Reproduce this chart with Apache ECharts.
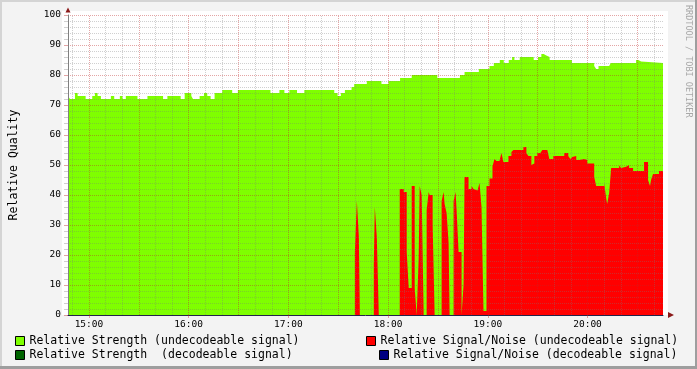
<!DOCTYPE html>
<html><head><meta charset="utf-8">
<script src="https://cdn.jsdelivr.net/npm/echarts@6/dist/echarts.min.js"></script>
<style>html,body{margin:0;padding:0;background:#f3f3f3}#c{width:697px;height:369px}</style>
</head><body><div id="c"></div>
<script>
// times are minutes after 14:00; each value holds until the next time
const strengthTime = [47.4,48.6,51.6,53.2,58.0,62.0,63.6,65.2,67.2,73.2,75.2,78.6,80.2,82.2,89.2,95.2,104.6,107.2,115.2,117.6,121.6,122.6,126.6,129.2,131.2,133.2,135.6,140.2,146.2,149.6,169.2,174.6,177.6,180.6,185.2,189.6,207.6,209.6,211.6,214.0,218.0,219.6,227.2,236.0,240.2,247.2,254.2,269.6,283.2,286.0,294.6,301.0,303.6,307.2,309.6,312.6,314.6,316.0,319.2,327.6,330.2,332.2,333.6,335.2,337.2,350.6,364.0,365.2,366.6,373.0,374.0,389.2,390.6,392.2,405.4];
const strengthVal = [73,72,74,73,72,73,74,73,72,73,72,73,72,73,72,73,72,73,72,74,73,72,73,74,73,72,74,75,74,75,74,75,74,75,74,75,74,73,74,75,76,77,78,77,78,79,80,79,80,81,82,83,84,85,84,85,86,85,86,85,86,87,86.5,86,85,84,83,82,83,83.5,84,85,84.5,84,84];
const snTime = [47.4,220.0,221.2,222.4,223.0,231.4,232.0,233.2,234.4,247.0,249.4,251.2,252.4,254.2,256.0,257.2,258.4,259.0,260.2,261.4,263.2,264.4,265.0,266.8,268.0,272.2,273.4,274.0,275.2,276.4,277.0,279.4,280.6,281.2,282.4,284.2,285.4,286.0,288.4,290.2,291.4,292.6,293.8,295.0,296.2,297.4,299.2,301.0,302.8,304.0,305.2,307.0,308.2,309.4,312.4,314.2,315.4,321.4,323.2,324.4,326.2,327.4,328.0,329.8,331.6,332.8,335.8,337.0,339.4,346.0,348.4,349.6,350.8,352.0,353.2,355.0,356.2,358.0,359.8,364.0,365.2,370.0,371.2,371.8,373.0,374.2,379.0,380.2,381.4,383.2,385.0,387.4,394.0,396.4,397.6,398.2,399.4,403.0,405.4];
const snVal = [0,21,38,26,0,17,36,26,0,42,41,21,9,43,9,0,19,43,40,0,35,41,40,30,0,38,41,37,34,24,0,38,41,35,21,0,10,46,42,43,42,41.5,41,44,36,1.3,43,45.5,49.5,52,51.3,51.7,54,51,53,54.3,55,56,54,53,50,50.5,53,54,54.4,55,54.4,52,53,54,53,52,52.7,53,51.7,51.2,52,51.7,50.5,46,43,44,39,37,40.6,49,49.8,49,49.4,50,49,48,51,45,43,45,47,48,48];
const seriesNames = ['Relative Strength (undecodeable signal)','Relative Strength  (decodeable signal)','Relative Signal/Noise (undecodeable signal)','Relative Signal/Noise (decodeable signal)'];
const seriesColors = ['#7fff00','#006400','#ff0000','#000080'];
const xStart = 47.4, xEnd = 405.4;
const yTitle = 'Relative Quality';
const watermark = 'RRDTOOL / TOBI OETIKER';

const base = new Date(2024,0,1,14,0,0).getTime();
const ts = m => base + m*60000;
const pairs = (t,v) => t.map((m,i)=>[ts(m), v[i]]);
const gridMinutes = [];
for (let m = 50; m < xEnd; m += 10) gridMinutes.push(m);
const MAJ = 'rgba(190,40,40,0.42)', MIN = 'rgba(120,120,120,0.35)';
const FONT = 'DejaVu Sans Mono';

const chart = echarts.init(document.getElementById('c'), null, {renderer:'canvas'});
function areaSeries(i, data){
  return {name: seriesNames[i], type:'line', step:'end', data, showSymbol:false, symbol:'none',
    lineStyle:{width:0}, itemStyle:{color:seriesColors[i]}, areaStyle:{color:seriesColors[i], opacity:1},
    silent:true, z:2};
}
const legendBase = (name, left, top) => ({
  data:[name], left, top, padding:0, icon:'rect', itemWidth:9, itemHeight:9, selectedMode:false,
  itemStyle:{borderColor:'#000', borderWidth:1},
  textStyle:{fontFamily:FONT, fontSize:11.5, color:'#000', lineHeight:14}
});
chart.setOption({
  animation:false,
  backgroundColor:'#f3f3f3',
  grid:{left:66, top:15, width:597, height:300, show:false},
  graphic:[
    {type:'rect', shape:{x:62, y:11, width:606, height:304}, style:{fill:'#ffffff'}, z:-10, silent:true},
    {type:'rect', shape:{x:0, y:0, width:697, height:2}, style:{fill:'#d4d4d4'}, silent:true},
    {type:'rect', shape:{x:0, y:0, width:2, height:369}, style:{fill:'#d4d4d4'}, silent:true},
    {type:'rect', shape:{x:0, y:366, width:697, height:3}, style:{fill:'#9e9e9e'}, silent:true},
    {type:'rect', shape:{x:695, y:0, width:2, height:369}, style:{fill:'#9e9e9e'}, silent:true},
    {type:'text', x:688, y:5, rotation:-Math.PI/2, silent:true,
     style:{text:watermark, fill:'#a8a8a8', font:'8.5px "DejaVu Sans Mono"', align:'left', verticalAlign:'middle'}}
  ],
  legend:[
    legendBase(seriesNames[0], 15, 334),
    legendBase(seriesNames[1], 15, 348),
    legendBase(seriesNames[2], 366, 334),
    legendBase(seriesNames[3], 379, 348)
  ],
  xAxis:[
    {type:'time', min:ts(xStart), max:ts(xEnd), splitNumber:6, minInterval:3600000, maxInterval:3600000, z:6,
     axisLine:{show:true, lineStyle:{color:'#23234a', width:1}},
     axisTick:{show:true, length:3, lineStyle:{color:MAJ}},
     axisLabel:{formatter:'{HH}:{mm}', fontFamily:FONT, fontSize:9.5, color:'#000', margin:5, showMinLabel:false, showMaxLabel:false},
     splitLine:{show:false}},
    {type:'time', min:ts(xStart), max:ts(xEnd), z:7, position:'bottom',
     axisLine:{show:true, symbol:['none','triangle'], symbolSize:[6,6], symbolOffset:[0,8], lineStyle:{color:'#8b1a1a', width:0}},
     axisTick:{show:false}, axisLabel:{show:false}, splitLine:{show:false}}
  ],
  yAxis:[
    {type:'value', min:0, max:100, interval:10, z:6,
     axisLine:{show:true, lineStyle:{color:'#808080', width:1}},
     axisTick:{show:true, length:4, lineStyle:{color:MAJ}},
     minorTick:{show:true, splitNumber:5, length:4, lineStyle:{color:MIN}},
     axisLabel:{fontFamily:FONT, fontSize:9.5, color:'#000', margin:7},
     splitLine:{show:true, lineStyle:{color:MAJ, type:[1,1], width:1}},
     minorSplitLine:{show:true, lineStyle:{color:MIN, type:[1,1], width:1}},
     name:yTitle, nameLocation:'middle', nameGap:48,
     nameTextStyle:{fontFamily:FONT, fontSize:11.5, color:'#000'}},
    {type:'value', min:0, max:100, position:'left', z:7,
     axisLine:{show:true, symbol:['none','triangle'], symbolSize:[5,5], symbolOffset:[0,5], lineStyle:{color:'#8b1a1a', width:0}},
     axisTick:{show:false}, axisLabel:{show:false}, splitLine:{show:false}}
  ],
  series:[
    areaSeries(0, pairs(strengthTime, strengthVal)),
    areaSeries(1, []),
    areaSeries(2, pairs(snTime, snVal)),
    areaSeries(3, []),
    {type:'line', data:[], silent:true, z:5,
     markLine:{silent:true, symbol:['none','none'], label:{show:false}, animation:false,
       data: gridMinutes.map(m => ({xAxis: ts(m), lineStyle:{color: m%30===0 ? MAJ : MIN, type:[1,1], width:1}}))}}
  ]
});
</script></body></html>
